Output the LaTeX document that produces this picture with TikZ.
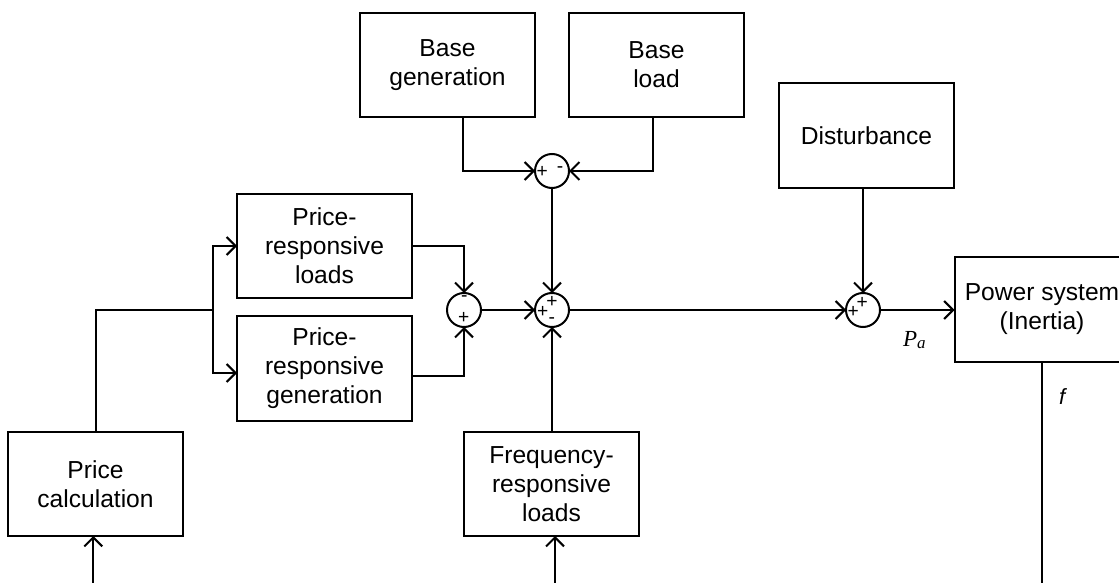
\documentclass[tikz,border=0pt]{standalone}
\usepackage{fontspec}
\setmainfont{Liberation Sans}
\newfontfamily\seriffont{Liberation Serif}
\usetikzlibrary{arrows.meta}
\begin{document}
\begin{tikzpicture}[x=0.5pt,y=-0.5pt,
  line width=1pt,
  box/.style={draw,line width=1pt,minimum width=87.5pt,minimum height=52pt,inner sep=0pt,outer sep=0pt,align=center,font=\fontsize{12.3}{14.5}\selectfont},
  sumj/.style={draw,circle,line width=1pt,minimum size=17pt,inner sep=0pt,outer sep=0pt},
  sgn/.style={inner sep=0pt,font=\fontsize{9.6}{10}\selectfont},
  arr/.style={-{Straight Barb[length=4.5pt,width=9pt]}}]
\useasboundingbox (0,0) rectangle (1119,583);
\clip (0,0) rectangle (1119,583);

% boxes
\node[box] (bgen) at (447.5,65) {Base\\generation};
\node[box] (bload) at (656.5,65) {Base\\load};
\node[box] (dist) at (866.5,135.5) {Disturbance};
\node[box] (prl) at (324.5,246) {Price-\\responsive\\loads};
\node[box,minimum height=52.5pt] (prg) at (324.5,368.5) {Price-\\responsive\\generation};
\node[box] (pcalc) at (95.5,484) {Price\\calculation};
\node[box] (freq) at (551.5,484) {Frequency-\\responsive\\loads};
\node[box,minimum height=52.5pt] (psys) at (1042,309.5) {Power system\\(Inertia)};

% summing junctions
\node[sumj] (s1) at (552,171) {};
\node[sumj] (s2) at (552,310) {};
\node[sumj] (s3) at (464,310) {};
\node[sumj] (s4) at (863,310) {};

% signs
\node[sgn] (s1a) at (542.3,171.7) {+};
\node[sgn] (s1b) at (560,170) {-};
\node[sgn] (s2a) at (552,301.7) {+};
\node[sgn] (s2b) at (542.7,311.7) {+};
\node[sgn] (s2c) at (551.7,320.7) {-};
\node[sgn] (s3a) at (464.3,299) {-};
\node[sgn] (s3b) at (463.7,318.3) {+};
\node[sgn] (s4a) at (853.3,311.7) {+};
\node[sgn] (s4b) at (862.3,302.7) {+};

% free ends and branch point
\coordinate (sp) at (213,310);
\coordinate (pin) at (93.3,583);
\coordinate (fin) at (555,583);
\coordinate (fout) at (1042,583);

% connectors
\draw[arr] ([xshift=7.75pt]bgen.south) |- (s1.west);
\draw[arr] ([xshift=-1.75pt]bload.south) |- (s1.east);
\draw[arr] (s1.south) -- (s2.north);
\draw[arr] (dist.south -| s4) -- (s4.north);
\draw[arr] (s2.east) -- (s4.west);
\draw[arr] (s4.east) -- (s4.east -| psys.west);
\draw[arr] (s3.east) -- (s2.west);
\draw[arr] (freq.north -| s2) -- (s2.south);
\draw[arr] (fin) -- (fin |- freq.south);
\draw[arr] (pin) -- (pin |- pcalc.south);
\draw (pcalc.north) |- (sp);
\draw[arr] (sp) |- (prl.west);
\draw[arr] (sp) |- ([yshift=-2.25pt]prg.west);
\draw[arr] (prl.east) -| (s3.north);
\draw[arr] ([yshift=-3.75pt]prg.east) -| (s3.south);
\draw (psys.south) -- (fout);

% labels
\node[inner sep=0pt,anchor=base west] (pa) at (902,346) {\seriffont\itshape\fontsize{11.5}{13}\selectfont P\raisebox{-1pt}{\fontsize{8.5}{9}\selectfont a}};
\node[inner sep=0pt,anchor=base west] (fl) at (1058,404) {\itshape\fontsize{11}{13}\selectfont f};
\end{tikzpicture}
\end{document}
